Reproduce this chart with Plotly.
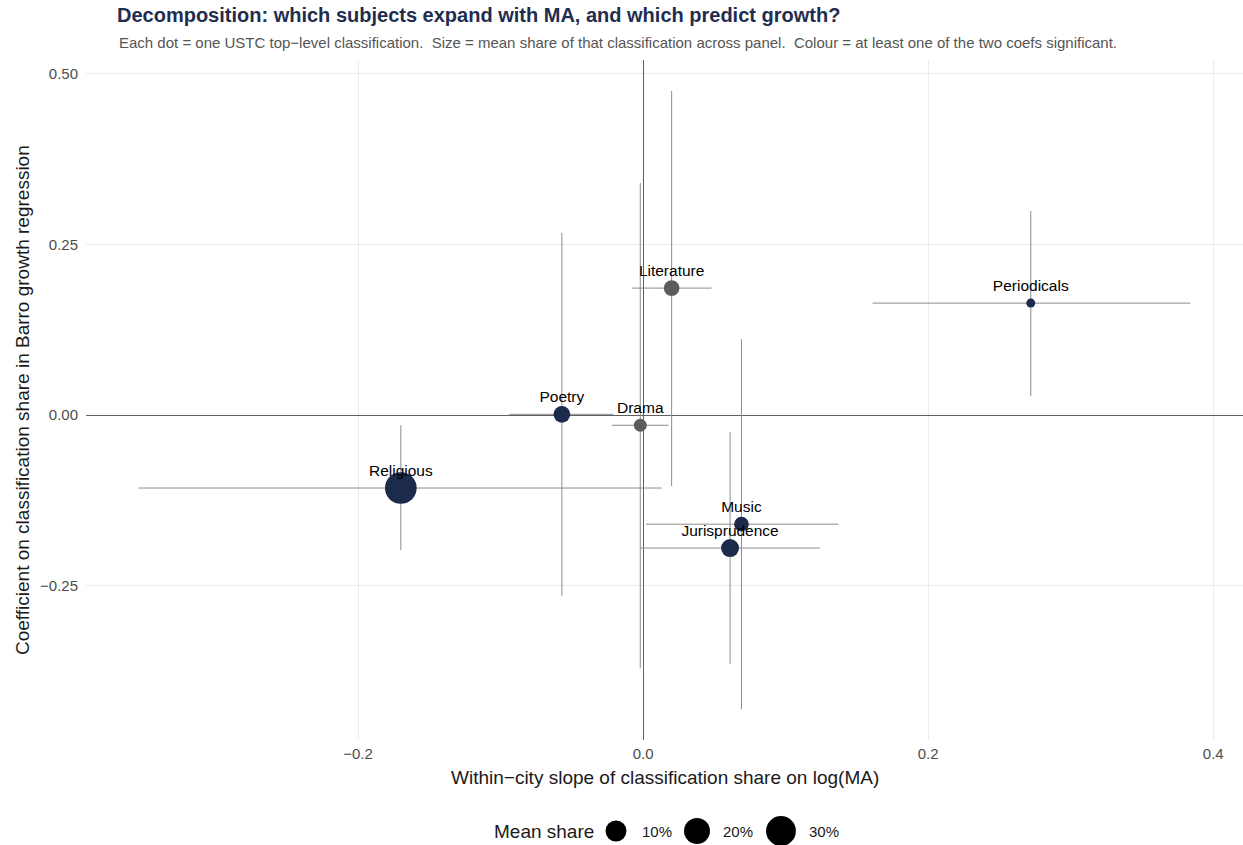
import numpy as np
import plotly.graph_objects as go

# ---------------- data ----------------
classes = ["Religious", "Poetry", "Drama", "Literature", "Music", "Jurisprudence", "Periodicals"]
slope = [-0.170, -0.057, -0.002, 0.020, 0.069, 0.061, 0.272]
slope_lo = [-0.354, -0.094, -0.022, -0.008, 0.002, -0.002, 0.161]
slope_hi = [0.013, -0.021, 0.018, 0.048, 0.137, 0.124, 0.384]
coef = [-0.107, 0.001, -0.015, 0.186, -0.160, -0.195, 0.164]
coef_lo = [-0.198, -0.265, -0.371, -0.104, -0.431, -0.365, 0.028]
coef_hi = [-0.015, 0.267, 0.340, 0.475, 0.111, -0.025, 0.299]
mean_share = [35.5, 4.3, 1.3, 3.3, 2.4, 5.7, 0.2]   # percent
significant = [True, True, False, False, True, True, True]

size_breaks = [10, 20, 30]
size_break_labels = ["10%", "20%", "30%"]
x_ticks = [-0.2, 0.0, 0.2, 0.4]
x_tick_labels = ["\u22120.2", "0.0", "0.2", "0.4"]
y_ticks = [-0.25, 0.0, 0.25, 0.50]
y_tick_labels = ["\u22120.25", "0.00", "0.25", "0.50"]

# ---------------- style ----------------
W, H = 1243, 845
ML, MR, MT, MB = 86, 0, 60, 105
PW, PH = W - ML - MR, H - MT - MB
FONT = "Liberation Sans, Arial, Helvetica, sans-serif"
NAVY = "#1c2b4c"
GREY_PT = "#5c5c5c"
ERR = "#8c8c8c"
DMIN, DMAX = 9.0, 31.7
NUDGE_Y = 0.024

smin, smax = min(mean_share), max(mean_share)


def diam(s):
    r = (np.asarray(s, dtype=float) - smin) / (smax - smin)
    return DMIN + (DMAX - DMIN) * np.sqrt(np.clip(r, 0, None))


def px_to_paper_x(px):
    return (px - ML) / PW


def px_to_paper_y(py):
    return (H - MB - py) / PH


# ggplot-like 5% expansion
xlo, xhi = min(slope_lo), max(slope_hi)
ylo, yhi = min(coef_lo), max(coef_hi)
xr = [xlo - 0.05 * (xhi - xlo), xhi + 0.05 * (xhi - xlo)]
yr = [ylo - 0.05 * (yhi - ylo), yhi + 0.05 * (yhi - ylo)]

fig = go.Figure()

# error bars as line segments (drawn beneath points)
ex, ey = [], []
for i in range(len(classes)):
    ex += [slope_lo[i], slope_hi[i], None, slope[i], slope[i], None]
    ey += [coef[i], coef[i], None, coef_lo[i], coef_hi[i], None]
fig.add_trace(go.Scatter(x=ex, y=ey, mode="lines", line=dict(color=ERR, width=1),
                         hoverinfo="skip", showlegend=False))

# points
cols = [NAVY if s else GREY_PT for s in significant]
fig.add_trace(go.Scatter(
    x=slope, y=coef, mode="markers",
    marker=dict(size=diam(mean_share), color=cols, line=dict(width=0), opacity=1),
    text=classes, showlegend=False))

# labels
fig.add_trace(go.Scatter(
    x=slope, y=[c + NUDGE_Y for c in coef], mode="text", text=classes,
    textposition="middle center", textfont=dict(family=FONT, size=15.5, color="#000000"),
    hoverinfo="skip", showlegend=False))

fig.update_layout(
    width=W, height=H,
    margin=dict(l=ML, r=MR, t=MT, b=MB),
    paper_bgcolor="white", plot_bgcolor="white",
    font=dict(family=FONT),
    showlegend=False,
    title=dict(text="<b>Decomposition: which subjects expand with MA, and which predict growth?</b>",
               font=dict(family=FONT, size=20, color="#1f2d50"),
               xref="container", x=117 / W, xanchor="left",
               yref="container", y=1 - 15 / H, yanchor="middle"),
)

fig.update_xaxes(range=xr, tickvals=x_ticks, ticktext=x_tick_labels,
                 showgrid=True, gridcolor="#ebebeb", gridwidth=1,
                 zeroline=True, zerolinecolor="#606060", zerolinewidth=1,
                 showline=False, ticks="", ticklabelstandoff=3,
                 tickfont=dict(family=FONT, size=15, color="#4d4d4d"))
fig.update_yaxes(range=yr, tickvals=y_ticks, ticktext=y_tick_labels,
                 showgrid=True, gridcolor="#ebebeb", gridwidth=1,
                 zeroline=True, zerolinecolor="#606060", zerolinewidth=1,
                 showline=False, ticks="", ticklabelstandoff=7,
                 tickfont=dict(family=FONT, size=15, color="#4d4d4d"))

ann = []
# subtitle
ann.append(dict(text="Each dot = one USTC top\u2212level classification.  Size = mean share of that classification across panel.  Colour = at least one of the two coefs significant.",
                xref="paper", yref="paper", x=px_to_paper_x(117), y=px_to_paper_y(42),
                xanchor="left", yanchor="middle", showarrow=False,
                font=dict(family=FONT, size=15, color="#555555")))
# axis titles
ann.append(dict(text="Within\u2212city slope of classification share on log(MA)",
                xref="paper", yref="paper", x=0.5, y=px_to_paper_y(777),
                xanchor="center", yanchor="middle", showarrow=False,
                font=dict(family=FONT, size=19, color="#1a1a1a")))
ann.append(dict(text="Coefficient on classification share in Barro growth regression",
                xref="paper", yref="paper", x=px_to_paper_x(22), y=px_to_paper_y(400), textangle=-90,
                xanchor="center", yanchor="middle", showarrow=False,
                font=dict(family=FONT, size=19, color="#1a1a1a")))

# size legend (manual)
LEG_Y = 831
ann.append(dict(text="Mean share", xref="paper", yref="paper",
                x=px_to_paper_x(596), y=px_to_paper_y(LEG_Y), xanchor="right", yanchor="middle",
                showarrow=False, font=dict(family=FONT, size=19, color="#1a1a1a")))
circle_cx = [616, 697, 781]
label_x = [640, 721, 807]
shapes = []
for b, lab, cx, lx in zip(size_breaks, size_break_labels, circle_cx, label_x):
    d = float(diam(b))
    shapes.append(dict(type="circle", xref="paper", yref="paper",
                       xsizemode="pixel", ysizemode="pixel",
                       xanchor=px_to_paper_x(cx), yanchor=px_to_paper_y(LEG_Y),
                       x0=-d / 2, x1=d / 2, y0=-d / 2, y1=d / 2,
                       fillcolor="black", line=dict(width=0)))
    ann.append(dict(text=lab, xref="paper", yref="paper",
                    x=px_to_paper_x(lx), y=px_to_paper_y(LEG_Y), xanchor="left", yanchor="middle",
                    showarrow=False, font=dict(family=FONT, size=15, color="#1a1a1a")))

fig.update_layout(annotations=ann, shapes=shapes)

fig.write_html("out.html")
